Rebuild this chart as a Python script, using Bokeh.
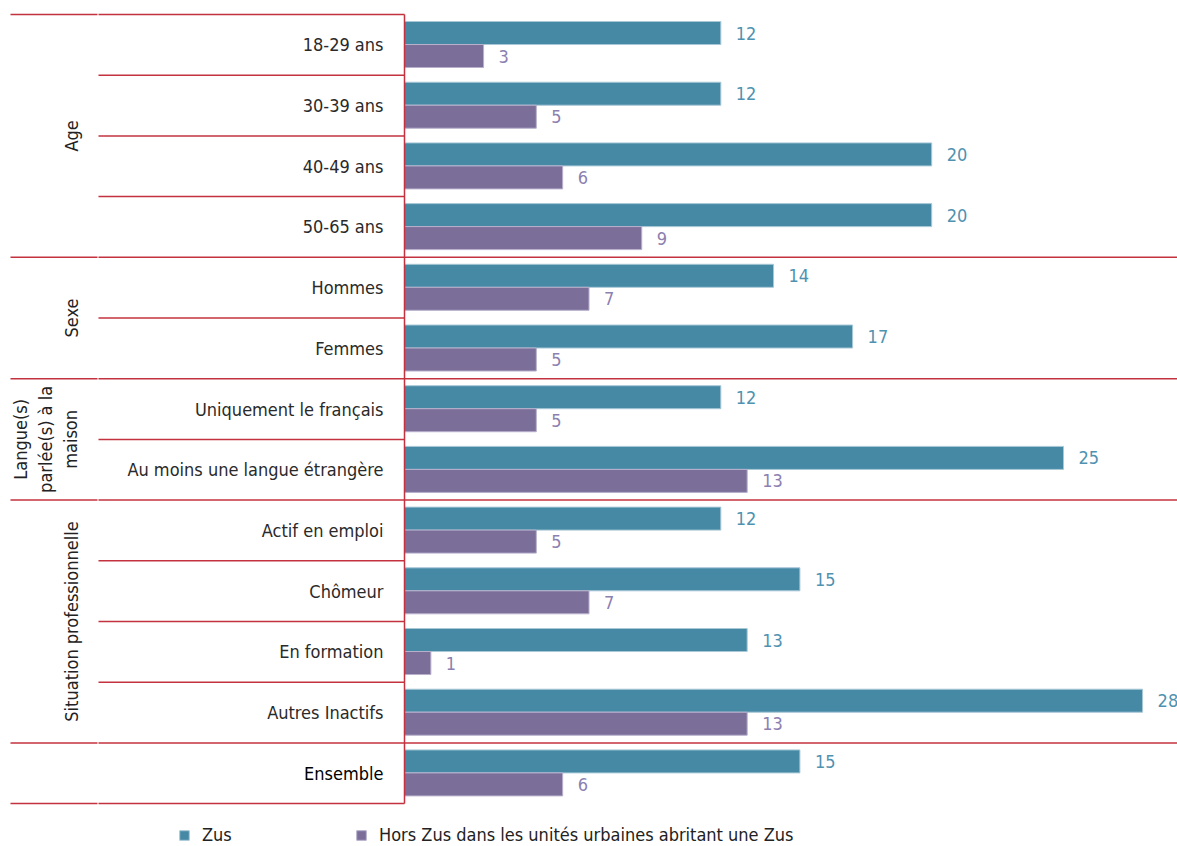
from bokeh.plotting import figure
from bokeh.models import Range1d, ColumnDataSource, Legend, LegendItem
from bokeh.core.properties import value
from bokeh.embed import file_html
from bokeh.resources import INLINE
import math

# ---- data ----
groups = ["Age", "Sexe", "Langue(s)\nparlée(s) à la\nmaison", "Situation professionnelle", ""]
group_sizes = [4, 2, 2, 4, 1]
categories = ["18-29 ans", "30-39 ans", "40-49 ans", "50-65 ans",
              "Hommes", "Femmes",
              "Uniquement le français", "Au moins une langue étrangère",
              "Actif en emploi", "Chômeur", "En formation", "Autres Inactifs",
              "Ensemble"]
zus = [12, 12, 20, 20, 14, 17, 12, 25, 12, 15, 13, 28, 15]
hors_zus = [3, 5, 6, 9, 7, 5, 5, 13, 5, 7, 1, 13, 6]
series_names = ["Zus", "Hors Zus dans les unités urbaines abritant une Zus"]

FONT = "'Liberation Sans Narrow', 'Arial Narrow', 'DejaVu Sans Condensed', sans-serif"
RED = "#c4323f"
TEAL = "#4589a5"
PURPLE = "#7b6f9a"
TEAL_TXT = "#4f92b0"
PURPLE_TXT = "#8b80b0"

W, H = 1177, 846
X0 = 404.0       # pixel of value 0
PX_PER_UNIT = 26.36
Y0 = 14.0        # pixel of top boundary
ROW = 60.7       # pixel per row

n = len(categories)
p = figure(width=W, height=H, output_backend="svg", toolbar_location=None,
           x_range=Range1d(-X0 / PX_PER_UNIT, (W - X0) / PX_PER_UNIT),
           y_range=Range1d((H - Y0) / ROW, -Y0 / ROW),
           min_border=0, min_border_left=0, min_border_right=0,
           min_border_top=0, min_border_bottom=0)
p.axis.visible = False
p.grid.visible = False
p.outline_line_color = None
p.background_fill_color = "white"

rows = list(range(n))
src = ColumnDataSource(dict(
    cat=categories,
    zus=zus, hors=hors_zus,
    yz=[r + 0.305 for r in rows],
    yh=[r + 0.684 for r in rows],
    ylab=[r + 0.5 for r in rows],
    zl=[str(v) for v in zus], hl=[str(v) for v in hors_zus],
    ccol=["#000000" if c == "Ensemble" else "#2a2a2a" for c in categories],
))

hb = 0.379
rz = p.hbar(y="yz", right="zus", left=0, height=hb, source=src,
            fill_color=TEAL, line_color="#a9c8d6", line_width=1)
rh = p.hbar(y="yh", right="hors", left=0, height=hb, source=src,
            fill_color=PURPLE, line_color="#b8b0cc", line_width=1)

p.text(x="zus", y="yz", text="zl", source=src, x_offset=15,
       text_align="left", text_baseline="middle",
       text_font=value(FONT), text_font_size="18px", text_color=TEAL_TXT)
p.text(x="hors", y="yh", text="hl", source=src, x_offset=15,
       text_align="left", text_baseline="middle",
       text_font=value(FONT), text_font_size="18px", text_color=PURPLE_TXT)

# category labels
lab_x = -21 / PX_PER_UNIT
p.text(x=lab_x, y="ylab", text="cat", source=src,
       text_align="right", text_baseline="middle",
       text_font=value(FONT), text_font_size="18px", text_color="ccol")

# group labels and separators
gx = -323 / PX_PER_UNIT
g_left = -394 / PX_PER_UNIT
g_mid_l = -307 / PX_PER_UNIT
g_mid_r = -306 / PX_PER_UNIT
full_r = (W - X0) / PX_PER_UNIT
start = 0
gy, gt = [], []
bx0, bx1, by = [], [], []
for g, s in zip(groups, group_sizes):
    if g:
        gy.append(start + s / 2)
        gt.append(g)
    start += s
bounds = [0]
for s in group_sizes:
    bounds.append(bounds[-1] + s)

p.text(x=[gx] * len(gt), y=gy, text=gt, angle=math.pi / 2,
       text_align="center", text_baseline="bottom", text_line_height=1.2,
       text_font=value(FONT), text_font_size="18px", text_color="#222222")

# group boundary lines (left column)
for b in bounds:
    bx0.append(g_left); bx1.append(g_mid_l); by.append(b)
# row boundary lines (label column)
for r in range(n + 1):
    right = full_r if (r in bounds[1:-1]) else 0
    bx0.append(g_mid_r); bx1.append(right); by.append(r)
p.segment(x0=bx0, y0=by, x1=bx1, y1=by, line_color=RED, line_width=1.5)
p.segment(x0=[0], y0=[0], x1=[0], y1=[n], line_color=RED, line_width=1.5)

# legends
leg1 = Legend(items=[LegendItem(label=series_names[0], renderers=[rz])],
              location=(178, 1))
leg2 = Legend(items=[LegendItem(label=series_names[1], renderers=[rh])],
              location=(355, 1))
for lg in (leg1, leg2):
    lg.glyph_width = 12
    lg.glyph_height = 12
    lg.label_text_font = FONT
    lg.label_text_font_size = "18px"
    lg.label_text_color = "#222222"
    lg.label_standoff = 12
    lg.label_height = 18
    lg.padding = 0
    lg.margin = 0
    lg.border_line_alpha = 0
    lg.background_fill_alpha = 0
    p.add_layout(lg)

open("out.html", "w").write(file_html(p, INLINE))
